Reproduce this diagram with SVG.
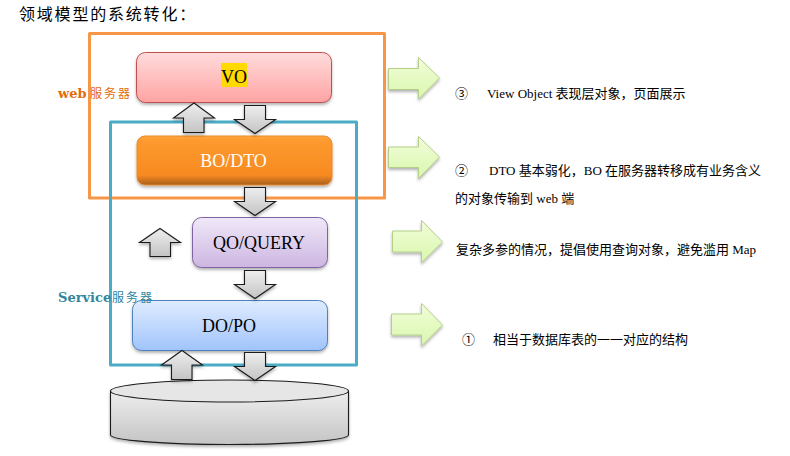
<svg xmlns="http://www.w3.org/2000/svg" width="790" height="456" viewBox="0 0 790 456">
<style>
text{font-family:"Liberation Serif","Noto Sans CJK SC",serif;fill:#000}
.cn{font-family:"Noto Sans CJK SC","Liberation Sans",sans-serif}
.note{font-size:13px}
.box{font-size:18px;text-anchor:middle}
.node{stroke-width:1}
.gray{fill:url(#gGray);stroke:#1a1a1a;stroke-width:1.1;filter:url(#sh)}
.green{fill:url(#gGreen);stroke:#b5cf88;stroke-width:1;filter:url(#sh)}
.frame{fill:none;stroke-width:3;stroke-linejoin:round}
.srv{font-family:"DejaVu Serif","Liberation Serif",serif;font-weight:bold;font-size:13px}
.srvcn{font-size:12px;letter-spacing:2px}
</style>
<defs>
<linearGradient id="gRed" x1="0" y1="0" x2="0" y2="1"><stop offset="0" stop-color="#ffdcdc"/><stop offset="1" stop-color="#ffa3a3"/></linearGradient>
<linearGradient id="gOrange" x1="0" y1="0" x2="0" y2="1"><stop offset="0" stop-color="#ffa63d"/><stop offset=".1" stop-color="#fd9a2e"/><stop offset=".8" stop-color="#f78a22"/><stop offset="1" stop-color="#a85f1c"/></linearGradient>
<linearGradient id="gPurple" x1="0" y1="0" x2="0" y2="1"><stop offset="0" stop-color="#f0e8f8"/><stop offset="1" stop-color="#cdb6e2"/></linearGradient>
<linearGradient id="gBlue" x1="0" y1="0" x2="0" y2="1"><stop offset="0" stop-color="#e0ecff"/><stop offset="1" stop-color="#a0c4fb"/></linearGradient>
<linearGradient id="gGray" x1="0" y1="0" x2="0" y2="1"><stop offset="0" stop-color="#eeeeee"/><stop offset="1" stop-color="#c4c4c4"/></linearGradient>
<linearGradient id="gGreen" x1="0" y1="0" x2="0" y2="1"><stop offset="0" stop-color="#f2fdd9"/><stop offset="1" stop-color="#d9f7ae"/></linearGradient>
<filter id="sh" x="-15%" y="-15%" width="130%" height="135%"><feDropShadow dx="0" dy="2" stdDeviation="1.5" flood-color="#000" flood-opacity=".3"/></filter>
</defs>

<text id="title" class="cn" x="19" y="20" font-size="16" letter-spacing="1.8">领域模型的系统转化：</text>

<g id="vo" class="node">
<rect x="136.5" y="52.5" width="195" height="50" rx="9" fill="url(#gRed)" stroke="#c0504d" filter="url(#sh)"/>
<rect x="221" y="63" width="26" height="24" fill="#ffd900"/>
<text class="box" x="234" y="83">VO</text>
</g>
<g id="bodto" class="node">
<rect x="137" y="136" width="195" height="49" rx="8" fill="url(#gOrange)" stroke="#e98a2e" filter="url(#sh)"/>
<text class="box" x="233.500" y="167" style="fill:#fff">BO/DTO</text>
</g>
<g id="qo" class="node">
<rect x="192.500" y="217.500" width="135" height="50" rx="9" fill="url(#gPurple)" stroke="#8064a2" filter="url(#sh)"/>
<text class="box" x="259" y="249">QO/QUERY</text>
</g>
<g id="dopo" class="node">
<rect x="132.500" y="300.500" width="195" height="50" rx="9" fill="url(#gBlue)" stroke="#4f81bd" filter="url(#sh)"/>
<text class="box" x="229" y="332">DO/PO</text>
</g>
<g id="database">
<path d="M110.500 391V435C110.500 440 163 444.500 229.500 444.500S348.500 440 348.500 435V391Z" fill="url(#gGray)" stroke="#1a1a1a" stroke-width="1.100" filter="url(#sh)"/>
<ellipse cx="229.500" cy="391" rx="119" ry="11" fill="#e6e6e6" stroke="#1a1a1a" stroke-width="1.100"/>
</g>

<g id="frames">
<rect class="frame" x="89.500" y="33.500" width="295" height="164.500" stroke="#f79646"/>
<rect class="frame" x="110.500" y="122" width="246" height="243" stroke="#4bacc6"/>
</g>

<g id="connectors">
<path class="gray" d="M194 103L214.500 118H204V132.500H183.500V118H173.500Z"/>
<path class="gray" d="M244.500 105.500H265.500V119.500H275.500L255 133.500L234.500 119.500H244.500Z"/>
<path class="gray" d="M244.500 187.500H265.500V201.500H275.500L255 215.500L234.500 201.500H244.500Z"/>
<path class="gray" d="M160 228.500L180.500 242.500H170.500V256.500H150V242.500H139.500Z"/>
<path class="gray" d="M244.500 270.500H265.500V284.500H275.500L255 298.500L234.500 284.500H244.500Z"/>
<path class="gray" d="M182 350.500L202.500 365H192V379.500H171.500V365H161.500Z"/>
<path class="gray" d="M244.500 352.500H265.500V366.500H275.500L255 380.500L234.500 366.500H244.500Z"/>
<path class="green" d="M388.500 68.500H418.500V57.500L439.500 78L418.500 99V89.500H388.500Z"/>
<path class="green" d="M388.500 147H418.500V136.500L439.500 157L418.500 178.500V167.500H388.500Z"/>
<path class="green" d="M392.500 231H421.500V220.500L442.500 242L421.500 262.500V252H392.500Z"/>
<path class="green" d="M391.500 314H421.500V303.500L442.500 325L421.500 346V335H391.500Z"/>
</g>

<g id="server-labels">
<text class="srv" x="58" y="98" style="fill:#e36c0a">web</text>
<text class="cn srvcn" x="90" y="98" style="fill:#e36c0a">服务器</text>
<text class="srv" x="58" y="302" style="fill:#31859c">Service</text>
<text class="cn srvcn" x="112" y="302" style="fill:#31859c">服务器</text>
</g>

<g id="notes">
<text class="note" x="455" y="98">③</text>
<text class="note" x="487" y="98">View Object 表现层对象，页面展示</text>
<text class="note" x="455" y="175">②</text>
<text class="note" x="489" y="175">DTO 基本弱化，BO 在服务器转移成有业务含义</text>
<text class="note" x="455" y="203">的对象传输到 web 端</text>
<text class="note" x="456" y="254">复杂多参的情况，提倡使用查询对象，避免滥用 Map</text>
<text class="note" x="462" y="344">①</text>
<text class="note" x="493" y="344">相当于数据库表的一一对应的结构</text>
</g>
</svg>
